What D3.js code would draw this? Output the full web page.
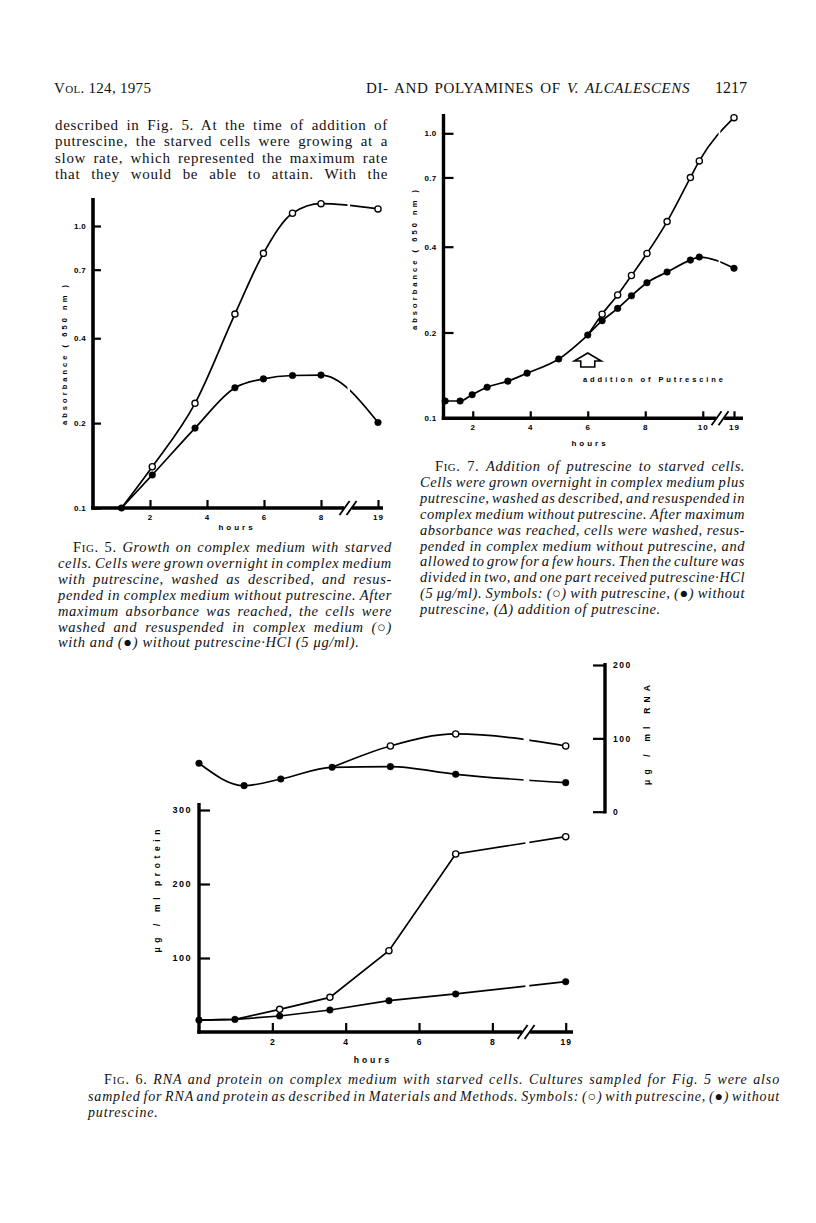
<!DOCTYPE html>
<html><head><meta charset="utf-8">
<script src="https://cdn.jsdelivr.net/npm/d3@7"></script>
<style>body{margin:0;background:#fff}svg{display:block}</style>
</head><body>
<svg id="page" width="816" height="1223"></svg>
<script>
// ---------- DATA ----------
// Fig. 5 : absorbance (650 nm) vs hours
const fig5Hours = [1, 2.08, 3.58, 4.98, 5.98, 7, 8, 19];
const fig5With = [0.100, 0.140, 0.235, 0.487, 0.80, 1.11, 1.20, 1.15];
const fig5Without = [0.100, 0.131, 0.192, 0.267, 0.287, 0.295, 0.296, 0.201];
const fig5YTicks = [0.1, 0.2, 0.4, 0.7, 1.0];
const fig5XTicks = [2, 4, 6, 8, 19];

// Fig. 7 : absorbance before/after addition of putrescine
const fig7HoursBefore = [1.04, 1.56, 1.98, 2.5, 3.22, 3.89, 4.99, 6.0];
const fig7Before = [0.115, 0.115, 0.121, 0.1285, 0.135, 0.144, 0.1615, 0.196];
const fig7HoursAfter = [6.5, 7.04, 7.52, 8.06, 8.76, 9.57, 9.88, 19];
const fig7With = [0.232, 0.271, 0.317, 0.379, 0.49, 0.699, 0.80, 1.135];
const fig7Without = [0.220, 0.243, 0.269, 0.299, 0.326, 0.359, 0.368, 0.336];
const fig7YTicks = [0.1, 0.2, 0.4, 0.7, 1.0];
const fig7XTicks = [2, 4, 6, 8, 10, 19];

// Fig. 6 : RNA and protein (ug/ml)
const fig6RnaHours = [0, 1.23, 2.23, 3.63, 5.22, 7.0, 19];
const fig6RnaWithout = [66, 35.5, 44.6, 60.5, 61.4, 51, 39.6];
const fig6RnaWithHours = [3.63, 5.22, 7.0, 19];
const fig6RnaWith = [60.5, 89.6, 106, 89.6];
const fig6ProtHours = [0, 0.98, 2.2, 3.57, 5.18, 7.0, 19];
const fig6ProtWithout = [16, 17, 21.6, 29.7, 42.3, 51.4, 68];
const fig6ProtWith = [16, 17, 30.6, 46.8, 109.9, 240.5, 264];
const fig6RnaTicks = [0, 100, 200];
const fig6ProtTicks = [100, 200, 300];
const fig6XTicks = [2, 4, 6, 8, 19];

// ---------- TEXT ----------
const bodyLines = [
  "described in Fig. 5. At the time of addition of",
  "putrescine, the starved cells were growing at a",
  "slow rate, which represented the maximum rate",
  "that they would be able to attain. With the"
];
const cap5Lines = [
  "Growth on complex medium with starved",
  "cells. Cells were grown overnight in complex medium",
  "with putrescine, washed as described, and resus-",
  "pended in complex medium without putrescine. After",
  "maximum absorbance was reached, the cells were",
  "washed and resuspended in complex medium (○)",
  "with and (●) without putrescine·HCl (5 μg/ml)."
];
const cap7Lines = [
  "Addition of putrescine to starved cells.",
  "Cells were grown overnight in complex medium plus",
  "putrescine, washed as described, and resuspended in",
  "complex medium without putrescine. After maximum",
  "absorbance was reached, cells were washed, resus-",
  "pended in complex medium without putrescine, and",
  "allowed to grow for a few hours. Then the culture was",
  "divided in two, and one part received putrescine·HCl",
  "(5 μg/ml). Symbols: (○) with putrescine, (●) without",
  "putrescine, (Δ) addition of putrescine."
];
const cap6Lines = [
  "RNA and protein on complex medium with starved cells. Cultures sampled for Fig. 5 were also",
  "sampled for RNA and protein as described in Materials and Methods. Symbols: (○) with putrescine, (●) without",
  "putrescine."
];

const svg = d3.select("#page");
svg.append("rect").attr("width", 816).attr("height", 1223).attr("fill", "#fff");
const SERIF = "'Liberation Serif','Times New Roman',serif";
const SANS = "'Liberation Sans',Arial,sans-serif";

function justify(sel, target) {
  const n = sel.node();
  const w = n.getComputedTextLength();
  const spaces = (n.textContent.match(/ /g) || []).length;
  if (spaces) sel.attr("word-spacing", (target - w) / spaces);
}

// ---------- header ----------
const hdr = svg.append("g").attr("font-family", SERIF).attr("fill", "#111");
const h1 = hdr.append("text").attr("x", 54).attr("y", 93).attr("font-size", 15).attr("letter-spacing", 0.3);
h1.append("tspan").text("V");
h1.append("tspan").attr("font-size", 11).text("OL");
h1.append("tspan").text(". 124, 1975");
const h2 = hdr.append("text").attr("x", 366).attr("y", 93).attr("font-size", 15).attr("letter-spacing", 0.6);
h2.append("tspan").text("DI- AND POLYAMINES OF ");
h2.append("tspan").attr("font-style", "italic").text("V. ALCALESCENS");
justify(h2, 324);
hdr.append("text").attr("x", 747).attr("y", 93).attr("font-size", 16).attr("text-anchor", "end").text("1217");

// body text (justified by word spacing)
bodyLines.forEach((t, i) => {
  const tx = svg.append("text").attr("x", 55).attr("y", 129.5 + i * 16.6)
    .attr("font-family", SERIF).attr("font-size", 15).attr("letter-spacing", 0.7).attr("fill", "#111").text(t);
  justify(tx, 333);
});

function caption(lines, label, x0, indent, x1, y0, dy, size, ls) {
  lines.forEach((t, i) => {
    const first = i === 0;
    const last = i === lines.length - 1;
    const sx = first ? x0 + indent : x0;
    const tx = svg.append("text").attr("x", sx).attr("y", y0 + i * dy)
      .attr("font-family", SERIF).attr("font-size", size).attr("letter-spacing", ls).attr("fill", "#111");
    if (first) {
      tx.append("tspan").attr("font-style", "normal").text("F");
      tx.append("tspan").attr("font-size", size * 0.75).text("IG");
      tx.append("tspan").text(". " + label + ". ");
    }
    tx.append("tspan").attr("font-style", "italic").text(t);
    if (!last) justify(tx, x1 - sx);
  });
}
caption(cap5Lines, "5", 58, 15, 392, 552, 15.9, 14.5, 0.65);
caption(cap7Lines, "7", 420, 15, 745, 471, 15.9, 14.5, 0.55);
caption(cap6Lines, "6", 88, 16, 780, 1084, 16.5, 14, 0.85);

// ---------- helpers ----------
function drawAxes(g, o) {
  g.append("line").attr("x1", o.x0).attr("x2", o.x0).attr("y1", o.yTop).attr("y2", o.y0 + o.axisW / 2)
    .attr("stroke", "#000").attr("stroke-width", o.axisW);
  g.append("line").attr("x1", o.x0 - o.axisW / 2).attr("x2", o.xEnd).attr("y1", o.y0).attr("y2", o.y0)
    .attr("stroke", "#000").attr("stroke-width", o.axisW);
  const bx = o.breakX;
  g.append("rect").attr("x", bx - 4).attr("y", o.y0 - o.axisW).attr("width", 8).attr("height", o.axisW * 2).attr("fill", "#fff");
  [-3.5, 3.5].forEach(d => {
    g.append("line").attr("x1", bx + d - 5).attr("y1", o.y0 + 7).attr("x2", bx + d + 5).attr("y2", o.y0 - 7)
      .attr("stroke", "#000").attr("stroke-width", 1.8);
  });
}
function yAxisLeft(g, scale, ticks, fmt, x0, tick, size, ls) {
  const ax = d3.axisLeft(scale).tickValues(ticks).tickFormat(fmt).tickSize(-tick).tickSizeOuter(0).tickPadding(7);
  const a = g.append("g").attr("transform", `translate(${x0},0)`).call(ax);
  a.select(".domain").remove();
  a.selectAll(".tick line").attr("stroke", "#000").attr("stroke-width", 2.2);
  a.selectAll(".tick text").attr("font-family", SANS).attr("font-weight", "bold").attr("font-size", size)
    .attr("letter-spacing", ls).attr("fill", "#000");
  return a;
}
function xAxisBottom(g, scale, ticks, y0, tick, size, pad) {
  const ax = d3.axisBottom(scale).tickValues(ticks).tickFormat(d3.format("d")).tickSize(-tick).tickSizeOuter(0).tickPadding(pad);
  const a = g.append("g").attr("transform", `translate(0,${y0})`).call(ax);
  a.select(".domain").remove();
  a.selectAll(".tick line").attr("stroke", "#000").attr("stroke-width", 2.2);
  a.selectAll(".tick text").attr("font-family", SANS).attr("font-weight", "bold").attr("font-size", size)
    .attr("letter-spacing", 1).attr("fill", "#000");
  return a;
}
function clipBand(id, gx0, gx1) {
  const cp = svg.append("clipPath").attr("id", id);
  cp.append("rect").attr("x", 0).attr("y", 0).attr("width", gx0).attr("height", 1223);
  cp.append("rect").attr("x", gx1).attr("y", 0).attr("width", 816 - gx1).attr("height", 1223);
  return `url(#${id})`;
}
function series(g, xs, ys, x, y, curve, clip) {
  const pts = xs.map((h, i) => [x(h), y(ys[i])]);
  g.append("path").attr("d", d3.line().curve(curve)(pts)).attr("fill", "none")
    .attr("stroke", "#000").attr("stroke-width", 1.7).attr("clip-path", clip);
  return pts;
}
function dots(g, pts, open) {
  g.selectAll(null).data(pts).join("circle").attr("cx", d => d[0]).attr("cy", d => d[1])
    .attr("r", open ? 3.1 : 3.3).attr("fill", open ? "#fff" : "#000")
    .attr("stroke", "#000").attr("stroke-width", open ? 1.3 : 0.5);
}
function axisTitle(g, x, yc, text, len, size) {
  g.append("text").attr("transform", `translate(${x},${yc}) rotate(-90)`).attr("text-anchor", "middle")
    .attr("font-family", SANS).attr("font-weight", "bold").attr("font-size", size).attr("fill", "#000")
    .attr("textLength", len).attr("lengthAdjust", "spacing").text(text);
}
function hoursLabel(g, x, y, size) {
  g.append("text").attr("x", x).attr("y", y).attr("text-anchor", "middle").attr("font-family", SANS)
    .attr("font-weight", "bold").attr("font-size", size).attr("letter-spacing", 3).attr("fill", "#000").text("hours");
}

// ---------- Fig. 5 ----------
{
  const g = svg.append("g");
  const x = d3.scaleLinear().domain([0, 9, 19]).range([93, 93 + 9 * 28.5, 93 + 10 * 28.5]);
  const y = d3.scaleLog().domain([0.1, 1.0]).range([508, 226]);
  drawAxes(g, {x0: 93, y0: 508, yTop: 198, xEnd: 383, axisW: 3.6, breakX: x(8.95)});
  yAxisLeft(g, y, fig5YTicks, d3.format(".1f"), 93, 8, 8, 0.3);
  xAxisBottom(g, x, fig5XTicks, 508, 8, 8, 6);
  axisTitle(g, 67, 355, "absorbance  ( 650 nm )", 140, 7.5);
  hoursLabel(g, 237, 530, 8);
  const clip = clipBand("c5", x(8.93), x(9.18));
  const pw = series(g, fig5Hours, fig5With, x, y, d3.curveMonotoneX, clip);
  const pn = series(g, fig5Hours, fig5Without, x, y, d3.curveMonotoneX, clip);
  dots(g, pn, false);
  dots(g, pw.slice(1), true);
}

// ---------- Fig. 7 ----------
{
  const g = svg.append("g");
  const x = d3.scaleLinear().domain([1, 10.6, 19]).range([444, 444 + 9.6 * 28.75, 734]);
  const y = d3.scaleLog().domain([0.1, 1.0]).range([418.3, 133.3]);
  drawAxes(g, {x0: 443.5, y0: 418.3, yTop: 114, xEnd: 743, axisW: 3.4, breakX: x(10.62)});
  yAxisLeft(g, y, fig7YTicks, d3.format(".1f"), 443.5, 10, 8, 0.3);
  xAxisBottom(g, x, fig7XTicks, 418.3, 7, 8, 6);
  axisTitle(g, 417, 260, "absorbance  ( 650 nm )", 140, 7.5);
  hoursLabel(g, 590, 446, 8);
  const clip = clipBand("c7", x(10.55), x(10.78));
  const pb = series(g, fig7HoursBefore, fig7Before, x, y, d3.curveMonotoneX, null);
  const hw = [fig7HoursBefore[fig7HoursBefore.length - 1]].concat(fig7HoursAfter);
  const pw = series(g, hw, [fig7Before[fig7Before.length - 1]].concat(fig7With), x, y, d3.curveMonotoneX, clip);
  const pn = series(g, hw, [fig7Before[fig7Before.length - 1]].concat(fig7Without), x, y, d3.curveMonotoneX, clip);
  dots(g, pb, false);
  dots(g, pn.slice(1), false);
  dots(g, pw.slice(1), true);
  // addition arrow (outlined, pointing up to 6 h)
  const ax = x(6), ay = 353;
  const arrow = [[0, 0], [13.5, 8], [7, 8], [7, 14], [-7, 14], [-7, 8], [-13.5, 8]];
  g.append("polygon").attr("points", arrow.map(p => [ax + p[0], ay + p[1]].join(",")).join(" "))
    .attr("fill", "#fff").attr("stroke", "#000").attr("stroke-width", 1.6);
  g.append("text").attr("x", 583).attr("y", 382).attr("font-family", SANS).attr("font-weight", "bold")
    .attr("font-size", 7.5).attr("textLength", 140).attr("lengthAdjust", "spacing").attr("fill", "#000")
    .text("addition of Putrescine");
}

// ---------- Fig. 6 ----------
{
  const g = svg.append("g");
  const x = d3.scaleLinear().domain([0, 9, 19]).range([199, 199 + 9 * 36.67, 199 + 10 * 36.67]);
  const yP = d3.scaleLinear().domain([0, 300]).range([1032, 810]);
  const yR = d3.scaleLinear().domain([0, 200]).range([811.7, 665]);
  drawAxes(g, {x0: 199, y0: 1032, yTop: 803, xEnd: 573, axisW: 3.4, breakX: x(8.92)});
  yAxisLeft(g, yP, fig6ProtTicks, d3.format("d"), 199, 11, 9, 1.5);
  xAxisBottom(g, x, fig6XTicks, 1032, 9, 8.5, 7);
  axisTitle(g, 160, 891, "μg / ml protein", 123, 8.5);
  hoursLabel(g, 373, 1063, 8.5);
  g.append("line").attr("x1", 605).attr("x2", 605).attr("y1", 663).attr("y2", 813.5)
    .attr("stroke", "#000").attr("stroke-width", 3.4);
  const ar = d3.axisRight(yR).tickValues(fig6RnaTicks).tickFormat(d3.format("d")).tickSize(-12).tickSizeOuter(0).tickPadding(8);
  const a = g.append("g").attr("transform", "translate(605,0)").call(ar);
  a.select(".domain").remove();
  a.selectAll(".tick line").attr("stroke", "#000").attr("stroke-width", 2.2);
  a.selectAll(".tick text").attr("font-family", SANS).attr("font-weight", "bold").attr("font-size", 8.5)
    .attr("letter-spacing", 1.5).attr("fill", "#000");
  axisTitle(g, 650, 735, "μg / ml  RNA", 100, 8.5);

  const clipP = clipBand("c6p", x(8.9), x(9.08));
  const pPn = series(g, fig6ProtHours, fig6ProtWithout, x, yP, d3.curveLinear, clipP);
  const pPw = series(g, fig6ProtHours, fig6ProtWith, x, yP, d3.curveLinear, clipP);
  dots(g, pPn, false);
  dots(g, pPw.slice(2), true);
  const clipR = clipBand("c6r", x(8.85), x(9.08));
  const pRn = series(g, fig6RnaHours, fig6RnaWithout, x, yR, d3.curveMonotoneX, clipR);
  const pRw = series(g, fig6RnaWithHours, fig6RnaWith, x, yR, d3.curveMonotoneX, clipR);
  dots(g, pRn, false);
  dots(g, pRw.slice(1), true);
}
</script>
</body></html>
